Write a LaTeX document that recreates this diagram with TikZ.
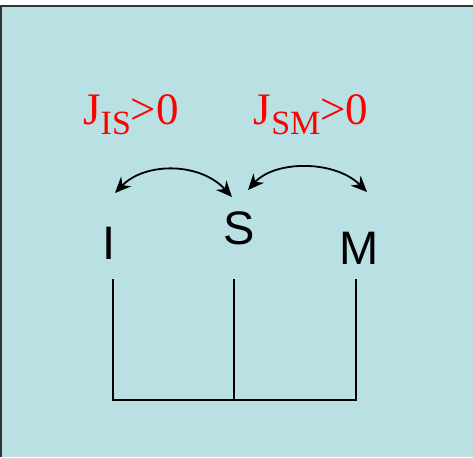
\documentclass[tikz,border=0pt]{standalone}
\usepackage{fontspec}
\setmainfont{Liberation Serif}
\newfontfamily\lsans{Liberation Sans}
\usetikzlibrary{arrows.meta}
\definecolor{bgblue}{RGB}{185,224,227}
\definecolor{jred}{RGB}{255,0,0}
\begin{document}
\begin{tikzpicture}[x=1pt,y=1pt,
  jlabel/.style={text=jred,anchor=base,inner sep=0pt,font=\fontsize{45}{45}\selectfont},
  letter/.style={anchor=base,inner sep=0pt,font=\lsans\fontsize{47}{47}\selectfont},
  tree/.style={line width=1.6pt,black},
  coupling/.style={line width=1.8pt,black,{Stealth[length=16pt,width=14pt]}-{Stealth[length=16pt,width=14pt]}}]
\useasboundingbox (0,0) rectangle (473,457);
\fill[white] (0,0) rectangle (473,457);
\fill[bgblue] (0,0) rectangle (473,451);
\draw[line width=1.5pt,black!80] (1,0) -- (1,451) -- (473,451);
% labels
\node[jlabel] (jis) at (131,332) {J\raisebox{-10pt}{\fontsize{34}{34}\selectfont IS}>0};
\node[jlabel] (jsm) at (311,332) {J\raisebox{-10pt}{\fontsize{34}{34}\selectfont SM}>0};
% letters
\node[letter] (I) at (109,197) {I};
\node[letter] (S) at (239,212) {S};
\node[letter] (M) at (359,192) {M};
% arrows
\coordinate (a1) at (115,264);
\coordinate (a2) at (232,260);
\coordinate (b1) at (248,267);
\coordinate (b2) at (367,265);
\draw[coupling] (a1) .. controls (145,295) and (200,295) .. (a2);
\draw[coupling] (b1) .. controls (275,297) and (335,297) .. (b2);
% tree
\coordinate (tI) at (113,178);
\coordinate (tS) at (234,178);
\coordinate (tM) at (356,178);
\coordinate (bI) at (113,57);
\coordinate (bS) at (234,57);
\coordinate (bM) at (356,57);
\draw[tree] (tI) -- (bI) -- (bM) -- (tM);
\draw[tree] (tS) -- (bS);
\end{tikzpicture}
\end{document}
